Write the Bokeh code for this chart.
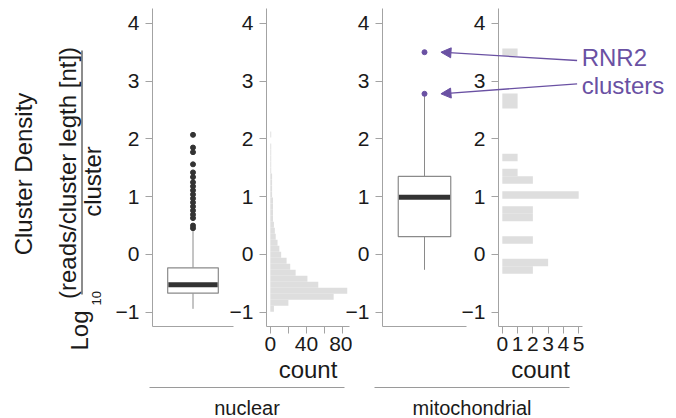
import math
from bokeh.plotting import figure
from bokeh.layouts import row, column
from bokeh.models import Range1d, FixedTicker, Arrow, NormalHead, Label
from bokeh.core.properties import value
from bokeh.embed import file_html
from bokeh.resources import INLINE

# ---------------- data ----------------
y_ticks = [-1, 0, 1, 2, 3, 4]
y_tick_labels = ["\u22121", "0", "1", "2", "3", "4"]

# box stats: lower whisker, Q1, median, Q3, upper whisker
nuc_box = [-0.94, -0.67, -0.525, -0.23, 0.43]
nuc_outliers = [2.07, 1.85, 1.77, 1.56, 1.42, 1.34, 1.25, 1.18, 1.11, 1.04,
                0.97, 0.90, 0.83, 0.76, 0.69, 0.63, 0.50, 0.455]
mito_box = [-0.265, 0.31, 0.99, 1.35, 2.78]
mito_highlight = [3.50, 2.78]

nuc_bin_width = 0.104
nuc_bin_centers = [-0.94, -0.836, -0.732, -0.628, -0.524, -0.42, -0.316, -0.212,
                   -0.108, -0.004, 0.10, 0.204, 0.308, 0.412, 0.516, 0.62, 0.724,
                   0.828, 0.932, 1.036, 1.14, 1.244, 1.348, 1.452, 1.556, 1.66,
                   1.764, 1.868, 1.972, 2.076]
nuc_counts = [4, 20, 70, 85, 53, 41, 28, 22, 18, 12, 10, 8, 6, 5, 4, 3, 3, 3, 3,
              2, 2, 2, 2, 1, 1, 1, 1, 1, 0, 1]

mito_bin_width = 0.13
mito_bin_centers = [-0.27, -0.14, 0.25, 0.64, 0.77, 1.03, 1.29, 1.42, 1.68, 2.59, 2.72, 3.50]
mito_counts = [2, 3, 2, 2, 2, 5, 2, 1, 1, 1, 1, 1]

nuc_count_ticks = [0, 20, 40, 60, 80]
nuc_count_labels = ["0", "", "40", "", "80"]
mito_count_ticks = [0, 1, 2, 3, 4, 5]

facet_labels = ["nuclear", "mitochondrial"]
annot_lines = ["RNR2", "clusters"]

# ---------------- style ----------------
FONT = "Liberation Sans"
AXC = "#a3a3a3"
BOXC = "#8a8a8a"
DARK = "#333333"
BARC = "#dedede"
PURPLE = "#6a51a3"
TXT = "#1a1a1a"
TICK_FS = "21px"
YR = (-1.246, 4.256)
TOPB = 8
BOTTOM = 64
H = 390


def clean(p):
    p.background_fill_color = None
    p.border_fill_color = None
    p.outline_line_color = None
    p.grid.visible = False


def base_panel(width, left, right, x_range, margin=(0, 0, 0, 0)):
    p = figure(width=width, height=H, x_range=x_range, y_range=Range1d(*YR),
               min_border_left=left, min_border_right=right, min_border_top=TOPB,
               min_border_bottom=BOTTOM, output_backend="svg", toolbar_location=None,
               margin=margin)
    clean(p)
    for ax in p.axis:
        ax.axis_line_color = AXC
        ax.axis_line_width = 1
        ax.major_tick_line_color = AXC
        ax.minor_tick_line_color = None
        ax.major_tick_in = 0
        ax.major_tick_out = 7
        ax.major_label_text_font = FONT
        ax.major_label_text_font_size = TICK_FS
        ax.major_label_text_color = TXT
    yax = p.yaxis[0]
    yax.ticker = FixedTicker(ticks=y_ticks)
    yax.major_label_overrides = {t: l for t, l in zip(y_ticks, y_tick_labels)}
    yax.major_label_standoff = 6
    return p


def box_panel(width, left, right, x_range, stats, outliers, out_color, margin=(0, 0, 0, 0), bounds=None):
    p = base_panel(width, left, right, x_range, margin)
    xax = p.xaxis[0]
    xax.ticker = FixedTicker(ticks=[])
    xax.major_tick_out = 0
    xax.major_label_text_font_size = "0px"
    if bounds is not None:
        xax.bounds = bounds
    lo, q1, med, q3, hi = stats
    p.segment(x0=[1, 1], y0=[q3, q1], x1=[1, 1], y1=[hi, lo], line_color=BOXC, line_width=1)
    p.vbar(x=[1], width=0.75, bottom=[q1], top=[q3], fill_color="white",
           line_color=BOXC, line_width=1.2)
    p.segment(x0=[1 - 0.75 / 2 + 0.01], x1=[1 + 0.75 / 2 - 0.01], y0=[med], y1=[med],
              line_color=DARK, line_width=5)
    if outliers:
        p.scatter(x=[1] * len(outliers), y=outliers, size=5, fill_color=out_color,
                  line_color=out_color)
    return p


def hist_panel(width, left, right, x_range, centers, counts, bw, ticks, overrides, margin=(0, 0, 0, 0)):
    p = base_panel(width, left, right, x_range, margin)
    p.hbar(y=centers, height=bw, left=0, right=counts, fill_color=BARC, line_color=None)
    xax = p.xaxis[0]
    xax.ticker = FixedTicker(ticks=ticks)
    if overrides:
        xax.major_label_overrides = overrides
    xax.major_label_standoff = 3
    xax.axis_label = "count"
    xax.axis_label_text_font = FONT
    xax.axis_label_text_font_size = "24px"
    xax.axis_label_text_font_style = "normal"
    xax.axis_label_text_color = TXT
    xax.axis_label_standoff = 2
    return p


# ---------------- y-axis title figure (data coordinates = page pixels) ----------------
TW = 112
tf = figure(width=TW, height=H, x_range=Range1d(0, TW), y_range=Range1d(0, H),
            min_border=0, x_axis_location=None, y_axis_location=None,
            output_backend="svg", toolbar_location=None)
tf.frame_align = False
clean(tf)


def ry(v):
    return H - v


def vlabel(x_mid, y, text, size, align="center"):
    tf.add_layout(Label(x=x_mid, y=ry(y), text=text, angle=math.pi / 2,
                        text_align=align, text_baseline="middle",
                        text_font=FONT, text_font_size=size, text_color=TXT))


vlabel(22.7, 173.5, "Cluster Density", "24px")
vlabel(66.7, 172.5, "(reads/cluster legth [nt])", "24px")
tf.segment(x0=[81.5], x1=[81.5], y0=[ry(50)], y1=[ry(294)], line_color=TXT, line_width=1)
vlabel(91.5, 181, "cluster", "24px")
vlabel(79, 350, "Log", "24px", align="left")
vlabel(95.5, 305, "10", "13px", align="left")

# ---------------- panels ----------------
nbox = box_panel(124, 37, 3, Range1d(0.4, 1.6), nuc_box, nuc_outliers, DARK)

nhist = hist_panel(128, 42, 3, Range1d(-4.2, 87.5), nuc_bin_centers, nuc_counts,
                   nuc_bin_width, nuc_count_ticks,
                   {t: l for t, l in zip(nuc_count_ticks, nuc_count_labels)},
                   margin=(0, 0, 0, -12))

mhist = hist_panel(130, 42, 4, Range1d(-0.25, 5.25), mito_bin_centers, mito_counts,
                   mito_bin_width, mito_count_ticks, None, margin=(0, 0, 0, 104))

# mitochondrial box panel: its (transparent) frame runs on to the right edge so that
# the annotation arrows can pass over the neighbouring histogram
MBW = 336
mbox = box_panel(MBW, 42, 0, Range1d(0.4, 0.4 + (MBW - 42) / 70), mito_box, [], DARK,
                 margin=(0, 0, 0, -246), bounds=(0.4, 1.6))
mbox.scatter(x=[1] * len(mito_highlight), y=mito_highlight, size=5,
             fill_color=PURPLE, line_color=PURPLE)
arrow_tail_x = 3.18
arrow_tail_y = [3.356, 2.953]
arrow_dx = 0.235
for yt, yp in zip(arrow_tail_y, mito_highlight):
    mbox.add_layout(Arrow(end=NormalHead(size=10, fill_color=PURPLE, line_color=PURPLE),
                          x_start=arrow_tail_x, y_start=yt, x_end=1 + arrow_dx, y_end=yp,
                          line_color=PURPLE, line_width=1.3))
mbox.text(x=[3.245, 3.245], y=[3.414, 2.924], text=annot_lines, text_align="left",
          text_baseline="middle", text_font=value(FONT),
          text_font_size=value("24px"), text_color=PURPLE)

# ---------------- facet strip (data coordinates = page pixels) ----------------
SH = 36
sf = figure(width=676, height=SH, x_range=Range1d(0, 676), y_range=Range1d(0, SH),
            min_border=0, x_axis_location=None, y_axis_location=None,
            output_backend="svg", toolbar_location=None, margin=(-8, 0, 0, 0))
sf.frame_align = False
clean(sf)
strip_x0 = [149, 374]
strip_x1 = [344, 569]
sf.segment(x0=strip_x0, x1=strip_x1, y0=[31, 31], y1=[31, 31], line_color="#9a9a9a", line_width=1)
sf.text(x=[(a + b) / 2 for a, b in zip(strip_x0, strip_x1)], y=[11, 11], text=facet_labels,
        text_align="center", text_baseline="middle", text_font=value(FONT),
        text_font_size=value("20px"), text_color=TXT)

top = row(tf, nbox, nhist, mhist, mbox)
layout = column(top, sf)

open("out.html", "w").write(file_html(layout, INLINE))
